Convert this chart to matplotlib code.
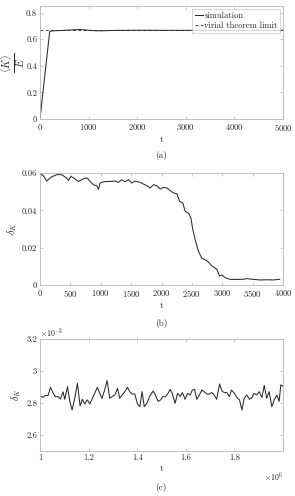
import matplotlib
matplotlib.use("Agg")
import matplotlib.pyplot as plt
import numpy as np

plt.rcParams['font.family'] = 'serif'
plt.rcParams['font.serif'] = ['cmr10']
plt.rcParams['mathtext.fontset'] = 'cm'
plt.rcParams['axes.formatter.use_mathtext'] = True

# ---- data (a) ----
t_a = [0, 200, 300, 400, 500, 600, 700, 800, 900, 1000, 1100, 1200, 1300, 1400,
       1500, 1600, 1800, 2000, 2500, 3000, 3500, 4000, 4500, 5000]
k_a = [0.0, 0.660, 0.664, 0.665, 0.667, 0.669, 0.671, 0.673, 0.671, 0.668, 0.665,
       0.663, 0.664, 0.665, 0.666, 0.667, 0.667, 0.668, 0.667, 0.667, 0.667, 0.667,
       0.667, 0.667]
virial_limit = 2.0 / 3.0

# ---- data (b) ----
t_b = [0, 55, 110, 190, 275, 357, 440, 467, 510, 577, 632, 687, 742, 780, 824, 879,
       934, 962, 989, 1044, 1154, 1236, 1291, 1346, 1400, 1456, 1511, 1566, 1648,
       1758, 1813, 1868, 1923, 1978, 2033, 2088, 2143, 2198, 2253, 2297, 2352, 2390,
       2445, 2484, 2516, 2555, 2610, 2665, 2747, 2830, 2912, 2956, 2995, 3049, 3132,
       3242, 3352, 3407, 3516, 3626, 3736, 3846, 3945]
d_b = [0.0595, 0.0586, 0.0557, 0.0579, 0.0591, 0.0591, 0.0573, 0.0560, 0.0582, 0.0568,
       0.0555, 0.0564, 0.0573, 0.0572, 0.0555, 0.0537, 0.0532, 0.0512, 0.0546, 0.0553,
       0.0555, 0.0557, 0.0550, 0.0564, 0.0553, 0.0564, 0.0546, 0.0557, 0.0550, 0.0532,
       0.0520, 0.0537, 0.0532, 0.0514, 0.0523, 0.0520, 0.0505, 0.0493, 0.0489, 0.0448,
       0.0439, 0.0394, 0.0385, 0.0358, 0.0296, 0.0242, 0.0179, 0.0143, 0.0131, 0.0102,
       0.0084, 0.0048, 0.0054, 0.0039, 0.0030, 0.0030, 0.0031, 0.0034, 0.0030, 0.0027,
       0.0028, 0.0027, 0.0031]

# ---- data (c) ---- (t in 1e6, delta in 1e-3)
t_c = [1.000, 1.012, 1.022, 1.033, 1.043, 1.053, 1.063, 1.074, 1.084, 1.095, 1.102,
       1.113, 1.122, 1.132, 1.143, 1.154, 1.165, 1.174, 1.184, 1.195, 1.205, 1.214,
       1.225, 1.236, 1.246, 1.255, 1.266, 1.276, 1.287, 1.297, 1.308, 1.319, 1.328,
       1.338, 1.349, 1.360, 1.369, 1.379, 1.390, 1.401, 1.411, 1.420, 1.429, 1.440,
       1.452, 1.466, 1.475, 1.486, 1.497, 1.505, 1.515, 1.525, 1.536, 1.545, 1.556,
       1.566, 1.577, 1.586, 1.597, 1.607, 1.618, 1.627, 1.636, 1.645, 1.656, 1.666,
       1.675, 1.687, 1.697, 1.707, 1.717, 1.727, 1.739, 1.748, 1.758, 1.769, 1.779,
       1.788, 1.800, 1.810, 1.821, 1.831, 1.840, 1.851, 1.862, 1.872, 1.881, 1.892,
       1.902, 1.913, 1.923, 1.933, 1.943, 1.954, 1.964, 1.975, 1.984, 1.991, 2.000]
d_c = [2.844, 2.835, 2.848, 2.846, 2.898, 2.865, 2.840, 2.840, 2.825, 2.869, 2.823,
       2.902, 2.815, 2.756, 2.829, 2.923, 2.781, 2.823, 2.794, 2.820, 2.794, 2.823,
       2.860, 2.898, 2.860, 2.829, 2.881, 2.940, 2.829, 2.840, 2.850, 2.892, 2.829,
       2.850, 2.871, 2.898, 2.871, 2.856, 2.856, 2.794, 2.777, 2.871, 2.777, 2.798,
       2.844, 2.875, 2.850, 2.810, 2.820, 2.840, 2.840, 2.856, 2.885, 2.856, 2.798,
       2.860, 2.840, 2.865, 2.823, 2.860, 2.850, 2.881, 2.885, 2.823, 2.850, 2.881,
       2.871, 2.856, 2.856, 2.865, 2.850, 2.823, 2.919, 2.877, 2.865, 2.865, 2.840,
       2.881, 2.860, 2.835, 2.820, 2.756, 2.829, 2.850, 2.823, 2.833, 2.860, 2.850,
       2.871, 2.835, 2.910, 2.829, 2.871, 2.777, 2.820, 2.850, 2.810, 2.913, 2.905]

W, H = 295, 496
fig = plt.figure(figsize=(W / 100, H / 100), dpi=100)

spine_c = '#b8b8b8'
txt_c = '#262626'
fs = 6.2

def style(ax):
    for s in ax.spines.values():
        s.set_color(spine_c)
        s.set_linewidth(0.6)
    ax.tick_params(direction='in', top=True, right=True, length=2.5, width=0.5,
                   color=spine_c, labelcolor=txt_c, labelsize=fs, pad=2)

def frac(l, t, r, b):
    return [l / W, 1 - b / H, (r - l) / W, (b - t) / H]

line_c = '#2a2a2a'
lw = 0.75

# (a)
ax1 = fig.add_axes(frac(40, 6, 283, 119))
ax1.plot(t_a, k_a, color=line_c, lw=lw, label='simulation')
ax1.axhline(virial_limit, color=line_c, lw=0.65, ls=(0, (3, 3)), label='virial theorem limit')
ax1.set_xlim(0, 5000)
ax1.set_ylim(0, 0.85)
ax1.set_xticks([0, 1000, 2000, 3000, 4000, 5000])
ax1.set_yticks([0, 0.2, 0.4, 0.6, 0.8])
ax1.set_yticklabels(['0', '0.2', '0.4', '0.6', '0.8'])
ax1.set_xlabel('t', fontsize=fs + 0.5, color=txt_c, labelpad=2)
ax1.set_ylabel(r'$\frac{\langle K\rangle}{E}$', fontsize=fs + 4.5, color=txt_c, labelpad=-1)
style(ax1)
leg = ax1.legend(loc='upper right', fontsize=fs, frameon=True, fancybox=False,
                 handlelength=1.0, handletextpad=0.15, borderpad=0.3, labelspacing=0.25,
                 borderaxespad=0.3)
leg.get_frame().set_edgecolor(spine_c)
leg.get_frame().set_linewidth(0.5)
for t in leg.get_texts():
    t.set_color(txt_c)
fig.text(161 / W, 1 - 155 / H, '(a)', ha='center', va='center', fontsize=fs + 0.5, color=txt_c)

# (b)
ax2 = fig.add_axes(frac(40, 173, 283, 285))
ax2.plot(t_b, d_b, color=line_c, lw=lw)
ax2.set_xlim(0, 4000)
ax2.set_ylim(0, 0.06)
ax2.set_xticks([0, 500, 1000, 1500, 2000, 2500, 3000, 3500, 4000])
ax2.set_yticks([0, 0.02, 0.04, 0.06])
ax2.set_yticklabels(['0', '0.02', '0.04', '0.06'])
ax2.set_xlabel('t', fontsize=fs + 0.5, color=txt_c, labelpad=2)
ax2.set_ylabel(r'$\delta_K$', fontsize=fs + 1, color=txt_c, labelpad=2)
style(ax2)
fig.text(161 / W, 1 - 323 / H, '(b)', ha='center', va='center', fontsize=fs + 0.5, color=txt_c)

# (c)
ax3 = fig.add_axes(frac(40, 339, 283, 451))
ax3.plot(np.array(t_c) * 1e6, np.array(d_c) * 1e-3, color=line_c, lw=lw)
ax3.set_xlim(1e6, 2e6)
ax3.set_ylim(2.5e-3, 3.2e-3)
ax3.set_xticks([1e6, 1.2e6, 1.4e6, 1.6e6, 1.8e6])
ax3.set_xticklabels(['1', '1.2', '1.4', '1.6', '1.8'])
ax3.set_yticks([2.6e-3, 2.8e-3, 3.0e-3, 3.2e-3])
ax3.set_yticklabels(['2.6', '2.8', '3', '3.2'])
ax3.set_xlabel('t', fontsize=fs + 0.5, color=txt_c, labelpad=2)
ax3.set_ylabel(r'$\delta_K$', fontsize=fs + 1, color=txt_c, labelpad=2)
style(ax3)
ax3.text(0.0, 1.0, r'$\times10^{-3}$', transform=ax3.transAxes, ha='left', va='bottom',
         fontsize=fs - 0.5, color=txt_c)
ax3.text(1.0, -0.17, r'$\times10^{6}$', transform=ax3.transAxes, ha='right', va='top',
         fontsize=fs - 0.5, color=txt_c)
fig.text(161 / W, 1 - 488 / H, '(c)', ha='center', va='center', fontsize=fs + 0.5, color=txt_c)

fig.savefig('out.png', dpi=100)
